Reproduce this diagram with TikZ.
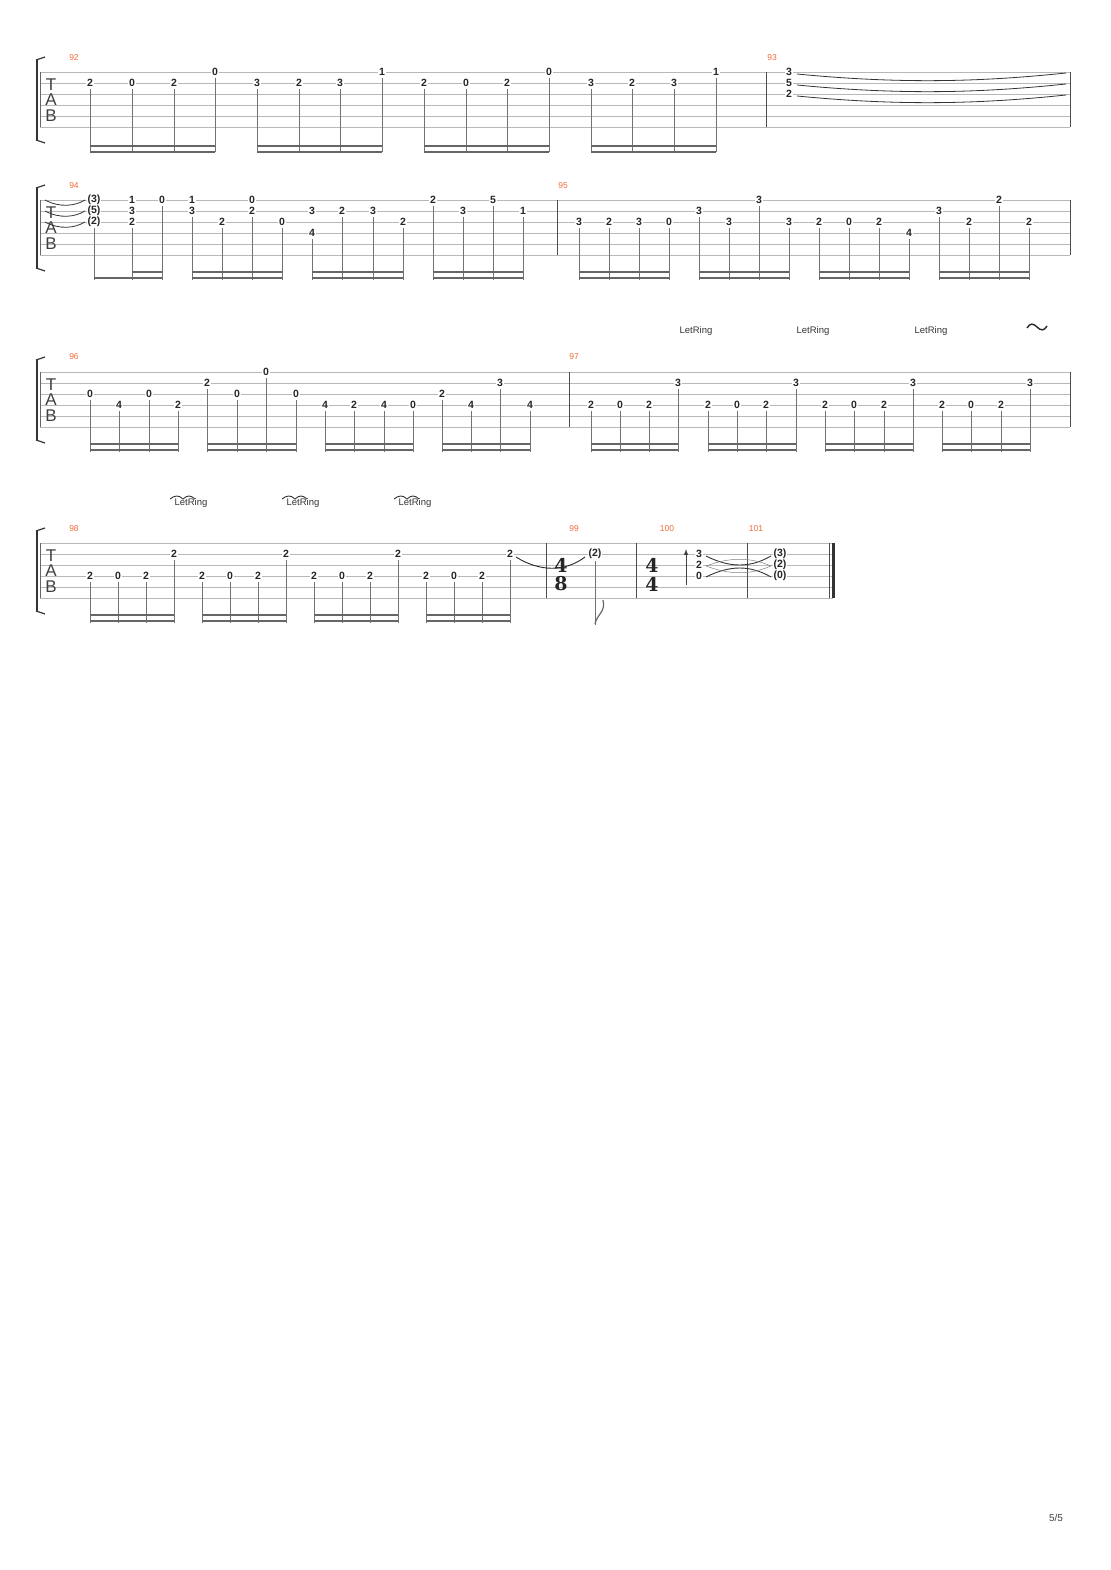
\documentclass[tikz,border=0pt]{standalone}
\usepackage{fontspec}
\setmainfont{Liberation Sans}
\newfontfamily\tsfont{DejaVu Serif}
\begin{document}
\begin{tikzpicture}[x=1pt,y=-1pt,
 num/.style={font=\bfseries\fontsize{10.5}{10}\selectfont,fill=white,inner sep=0.6pt,text=black!85},
 bnum/.style={font=\fontsize{8.5}{9}\selectfont,text={rgb,255:red,242;green,106;blue,58}},
 stemline/.style={draw=black!55,line width=0.9pt},
 beamline/.style={draw=black!60,line width=2.4pt},
 staffline/.style={draw=black!28,line width=0.6pt},
 tabl/.style={font=\fontsize{17}{17}\selectfont,text=black!75,inner sep=0pt},
 tsig/.style={font=\tsfont\bfseries\fontsize{19}{19}\selectfont,inner sep=0pt,text=black!85},
 lr/.style={font=\fontsize{9.5}{9}\selectfont,text=black!80}]
\useasboundingbox (0,0) rectangle (1110,1570);
\newcommand\staff[2]{% top, xend
 \foreach \i in {0,...,5}{\draw[staffline] (40,{#1+11*\i}) -- (#2,{#1+11*\i});}
 \draw[black!60,line width=0.6pt] (40,#1) -- (40,{#1+55});
 \node[tabl] at (51,{#1+13}) {T};
 \node[tabl] at (51,{#1+28}) {A};
 \node[tabl] at (51,{#1+44}) {B};
 \draw[black!80,line width=2.2pt] (37,{#1-12}) -- (37,{#1+68});
 \draw[black!80,line width=1.2pt] (36,{#1-12}) -- (45,{#1-15});
 \draw[black!80,line width=1.2pt] (36,{#1+68}) -- (45,{#1+71});}
\newcommand\N[4]{\node[num] at (#1,{#2+(#3-1)*11}) {#4};}
\newcommand\St[3]{\draw[stemline] (#1,{#2+(#3-1)*11+6}) -- (#1,{#2+80});}
\newcommand\Bm[4]{\draw[beamline] (#2,{#1+#4}) -- (#3,{#1+#4});}
\newcommand\Br[2]{\draw[black!70,line width=0.9pt] (#1,#2) -- (#1,{#2+55});}
% ---------- Row 1
\def\T{72}
\staff{72}{1070}
\Br{766}{72}\Br{1070}{72}
\node[bnum] at (74,58) {92};
\node[bnum] at (772,58) {93};
\foreach \x/\s/\l in {90/2/2,132/2/0,174/2/2,215/1/0,257/2/3,299/2/2,340/2/3,382/1/1,424/2/2,466/2/0,507/2/2,549/1/0,591/2/3,632/2/2,674/2/3,716/1/1}{
 \St{\x}{\T}{\s}}
\foreach \a/\b in {90/215,257/382,424/549,591/716}{\Bm{\T}{\a}{\b}{74}\Bm{\T}{\a}{\b}{80}}
\foreach \x/\s/\l in {90/2/2,132/2/0,174/2/2,215/1/0,257/2/3,299/2/2,340/2/3,382/1/1,424/2/2,466/2/0,507/2/2,549/1/0,591/2/3,632/2/2,674/2/3,716/1/1}{
 \N{\x}{\T}{\s}{\l}}
\foreach \s in {1,2,3}{\draw[black!80,line width=0.8pt] (797,{\T+(\s-1)*11+2}) .. controls (900,{\T+(\s-1)*11+12}) and (980,{\T+(\s-1)*11+10}) .. (1066,{\T+(\s-1)*11+1});}
\N{789}{\T}{1}{3}\N{789}{\T}{2}{5}\N{789}{\T}{3}{2}
% ---------- Row 2
\def\T{200}
\staff{200}{1070}
\Br{557}{200}\Br{1070}{200}
\node[bnum] at (74,186) {94};
\node[bnum] at (563,186) {95};
\foreach \s in {1,2,3}{\draw[black!80,line width=0.8pt] (45,{\T+(\s-1)*11}) .. controls (60,{\T+(\s-1)*11+8}) and (75,{\T+(\s-1)*11+6}) .. (85,{\T+(\s-1)*11});}
\foreach \x/\s in {94/3,132/3,162/1,192/2,222/3,252/2,282/3,312/4,342/2,373/2,403/3,433/1,463/2,493/1,523/2,579/3,609/3,639/3,669/3,699/2,729/3,759/1,789/3,819/3,849/3,879/3,909/4,939/2,969/3,999/1,1029/3}{\St{\x}{\T}{\s}}
\Bm{\T}{94}{162}{78}\Bm{\T}{132}{162}{72}
\foreach \a/\b in {192/282,312/403,433/523,579/669,699/789,819/909,939/1029}{\Bm{\T}{\a}{\b}{72}\Bm{\T}{\a}{\b}{78}}
\N{94}{\T}{1}{(3)}\N{94}{\T}{2}{(5)}\N{94}{\T}{3}{(2)}
\N{132}{\T}{1}{1}\N{132}{\T}{2}{3}\N{132}{\T}{3}{2}
\N{162}{\T}{1}{0}
\N{192}{\T}{1}{1}\N{192}{\T}{2}{3}
\N{222}{\T}{3}{2}
\N{252}{\T}{1}{0}\N{252}{\T}{2}{2}
\N{282}{\T}{3}{0}
\N{312}{\T}{2}{3}\N{312}{\T}{4}{4}
\foreach \x/\s/\l in {342/2/2,373/2/3,403/3/2,433/1/2,463/2/3,493/1/5,523/2/1,579/3/3,609/3/2,639/3/3,669/3/0,699/2/3,729/3/3,759/1/3,789/3/3,819/3/2,849/3/0,879/3/2,909/4/4,939/2/3,969/3/2,999/1/2,1029/3/2}{\N{\x}{\T}{\s}{\l}}
% ---------- Row 3
\def\T{372}
\staff{372}{1070}
\Br{569}{372}\Br{1070}{372}
\node[bnum] at (74,357) {96};
\node[bnum] at (574,357) {97};
\node[lr] at (696,331) {LetRing};
\node[lr] at (813,331) {LetRing};
\node[lr] at (931,331) {LetRing};
\draw[black!85,line width=1.4pt] (1027,328) .. controls (1030,323) and (1033,323) .. (1037,327) .. controls (1041,331) and (1044,331) .. (1047,326);
% ---
\foreach \x/\s/\l in {90/3/0,119/4/4,149/3/0,178/4/2,207/2/2,237/3/0,266/1/0,296/3/0,325/4/4,354/4/2,384/4/4,413/4/0,442/3/2,471/4/4,500/2/3,530/4/4,591/4/2,620/4/0,649/4/2,678/2/3,708/4/2,737/4/0,766/4/2,796/2/3,825/4/2,854/4/0,884/4/2,913/2/3,942/4/2,971/4/0,1001/4/2,1030/2/3}{\St{\x}{\T}{\s}}
\foreach \a/\b in {90/178,207/296,325/413,442/530,591/678,708/796,825/913,942/1030}{\Bm{\T}{\a}{\b}{72}\Bm{\T}{\a}{\b}{78}}
\foreach \x/\s/\l in {90/3/0,119/4/4,149/3/0,178/4/2,207/2/2,237/3/0,266/1/0,296/3/0,325/4/4,354/4/2,384/4/4,413/4/0,442/3/2,471/4/4,500/2/3,530/4/4,591/4/2,620/4/0,649/4/2,678/2/3,708/4/2,737/4/0,766/4/2,796/2/3,825/4/2,854/4/0,884/4/2,913/2/3,942/4/2,971/4/0,1001/4/2,1030/2/3}{\N{\x}{\T}{\s}{\l}}
% ---------- Row 4
\def\T{543}
\staff{543}{833}
\Br{546}{543}\Br{636}{543}\Br{747}{543}\Br{829}{543}
\draw[black!80,line width=3pt] (833,543) -- (833,598);
\node[bnum] at (74,529) {98};
\node[bnum] at (574,529) {99};
\node[bnum] at (667,529) {100};
\node[bnum] at (756,529) {101};
\foreach \x in {191,303,415}{
 \node[lr] at (\x,503) {LetRing};
 \draw[black!80,line width=0.9pt] (\x-21,499) .. controls (\x-16,495) and (\x-12,495) .. (\x-8,499) .. controls (\x-4,495) and (\x,495) .. (\x+4,499);}
\foreach \x/\s/\l in {90/4/2,118/4/0,146/4/2,174/2/2,202/4/2,230/4/0,258/4/2,286/2/2,314/4/2,342/4/0,370/4/2,398/2/2,426/4/2,454/4/0,482/4/2,510/2/2}{\St{\x}{\T}{\s}}
\foreach \a/\b in {90/174,202/286,314/398,426/510}{\Bm{\T}{\a}{\b}{72}\Bm{\T}{\a}{\b}{78}}
\foreach \x/\s/\l in {90/4/2,118/4/0,146/4/2,174/2/2,202/4/2,230/4/0,258/4/2,286/2/2,314/4/2,342/4/0,370/4/2,398/2/2,426/4/2,454/4/0,482/4/2,510/2/2}{\N{\x}{\T}{\s}{\l}}
\node[tsig] at (561,565) {4};
\node[tsig] at (561,584) {8};
\node[tsig] at (652,565) {4};
\node[tsig] at (652,584) {4};
\draw[black!85,line width=0.9pt] (516,557) .. controls (540,572) and (565,572) .. (585,557);
\draw[stemline] (595,561) -- (595,625);
\draw[black!60,line width=1.2pt] (595,624) .. controls (597,614) and (606,612) .. (603,600);
\N{595}{\T}{2}{(2)}
\draw[black!75,line width=1pt,-latex] (686,585) -- (686,549);
\draw[black!80,line width=0.9pt] (706,556) .. controls (730,568) and (750,568) .. (771,556);
\draw[black!80,line width=0.9pt] (706,577) .. controls (730,565) and (750,565) .. (771,577);
\draw[black!50,line width=0.5pt] (706,566) .. controls (730,575) and (750,575) .. (771,566);
\draw[black!50,line width=0.5pt] (706,566) .. controls (730,557) and (750,557) .. (771,566);
\N{699}{\T}{2}{3}\N{699}{\T}{3}{2}\N{699}{\T}{4}{0}
\N{780}{\T}{2}{(3)}\N{780}{\T}{3}{(2)}\N{780}{\T}{4}{(0)}
\node[font=\fontsize{10}{10}\selectfont,text=black!75] at (1056,1518) {5/5};
\end{tikzpicture}
\end{document}
